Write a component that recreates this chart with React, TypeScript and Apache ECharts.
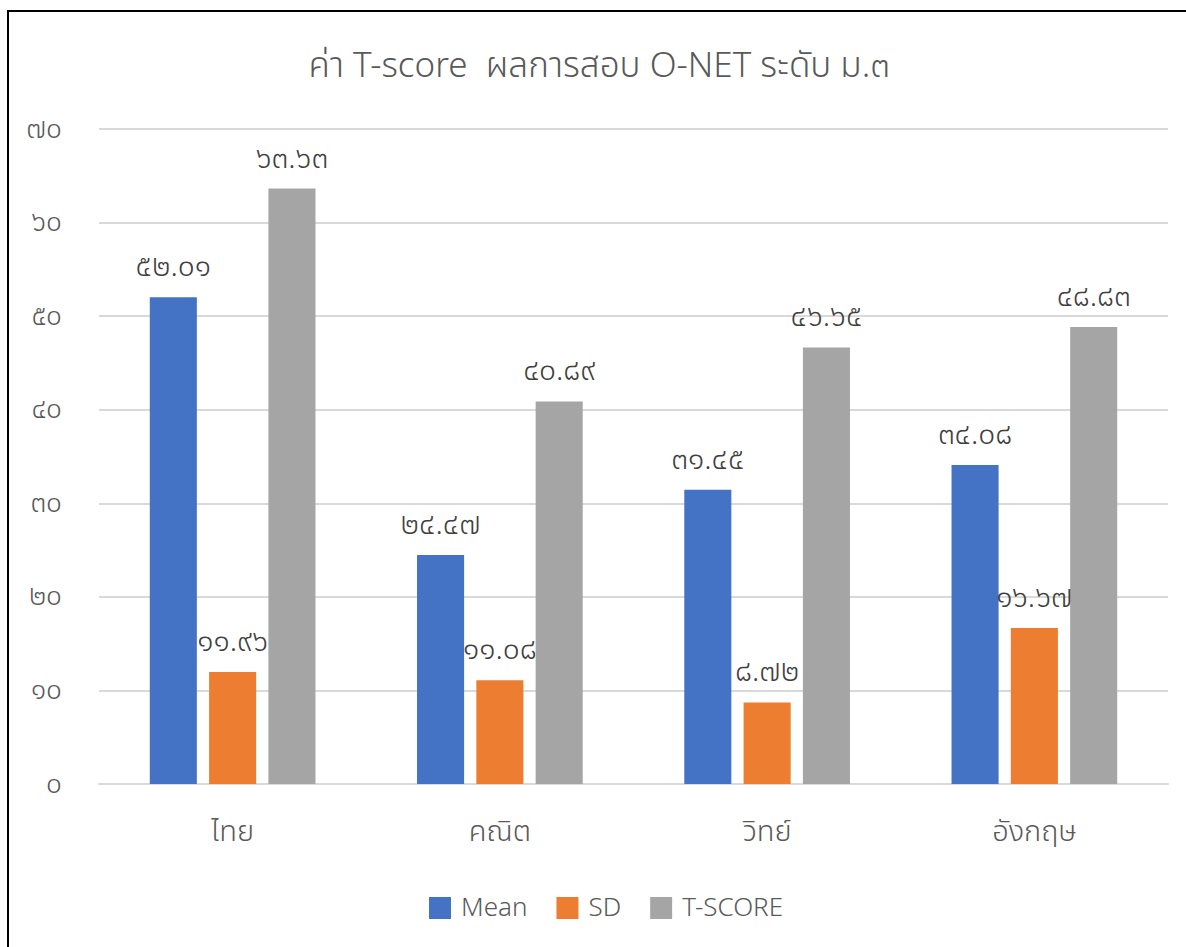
import React, { useEffect, useRef } from "react";
import * as echarts from "echarts";

const categories = ["ไทย", "คณิต", "วิทย์", "อังกฤษ"];
const meanValues = [52.01, 24.47, 31.45, 34.08];
const sdValues = [11.96, 11.08, 8.72, 16.67];
const tScoreValues = [63.63, 40.89, 46.65, 48.83];
const seriesNames = ["Mean", "SD", "T-SCORE"];
const colors = ["#4472C4", "#ED7D31", "#A5A5A5"];
const titleText = "ค่า T-score  ผลการสอบ O-NET ระดับ ม.๓";

const thaiDigits = ["๐", "๑", "๒", "๓", "๔", "๕", "๖", "๗", "๘", "๙"];
const toThai = (s: string) => s.replace(/[0-9]/g, (d) => thaiDigits[Number(d)]);

const FONT = "'Noto Sans Thai', 'Leelawadee UI', 'Noto Sans', 'DejaVu Sans', sans-serif";

export default function App() {
  const ref = useRef<HTMLDivElement>(null);
  useEffect(() => {
    if (!ref.current) return;
    const chart = echarts.init(ref.current, null, { renderer: "svg" });
    const mk = (name: string, data: number[], color: string) => ({
      name,
      type: "bar",
      data,
      itemStyle: { color },
      barGap: "26%",
      barCategoryGap: "38%",
      label: {
        show: true,
        position: "top",
        distance: 15,
        fontSize: 30,
        fontWeight: 300,
        color: "#404040",
        fontFamily: FONT,
        formatter: (p: any) => toThai(Number(p.value).toFixed(2)),
      },
    });
    chart.setOption({
      animation: false,
      backgroundColor: "#ffffff",
      textStyle: { fontFamily: FONT },
      title: {
        text: titleText,
        left: 594,
        textAlign: "center",
        top: 44,
        textStyle: { fontSize: 35, fontWeight: 300, color: "#595959", fontFamily: FONT },
      },
      legend: {
        data: seriesNames,
        bottom: 21,
        left: 424,
        itemWidth: 22,
        itemHeight: 22,
        itemGap: 29,
        icon: "rect",
        textStyle: { fontSize: 26, fontWeight: 300, color: "#595959", fontFamily: FONT, padding: [0, 0, 0, 5] },
      },
      grid: { left: 99, right: 18, top: 129, bottom: 163, containLabel: false },
      xAxis: {
        type: "category",
        data: categories,
        axisLine: { lineStyle: { color: "#d9d9d9", width: 2 } },
        axisTick: { show: false },
        axisLabel: { fontSize: 29, fontWeight: 300, color: "#595959", margin: 33, fontFamily: FONT },
      },
      yAxis: {
        type: "value",
        min: 0,
        max: 70,
        interval: 10,
        axisLine: { show: false },
        axisTick: { show: false },
        splitLine: { lineStyle: { color: "#d9d9d9", width: 2 } },
        axisLabel: {
          fontSize: 28,
          fontWeight: 300,
          color: "#595959",
          margin: 37,
          fontFamily: FONT,
          formatter: (v: number) => toThai(String(v)),
        },
      },
      series: [
        mk(seriesNames[0], meanValues, colors[0]),
        mk(seriesNames[1], sdValues, colors[1]),
        mk(seriesNames[2], tScoreValues, colors[2]),
      ],
      graphic: [
        {
          type: "rect",
          shape: { x: 8, y: 11, width: 1200, height: 1000 },
          style: { fill: "none", stroke: "#000000", lineWidth: 2 },
          silent: true,
        },
      ],
    });
    return () => chart.dispose();
  }, []);
  return (
    <div
      ref={ref}
      style={{ position: "absolute", left: 0, top: 0, width: 1186, height: 947 }}
    />
  );
}
